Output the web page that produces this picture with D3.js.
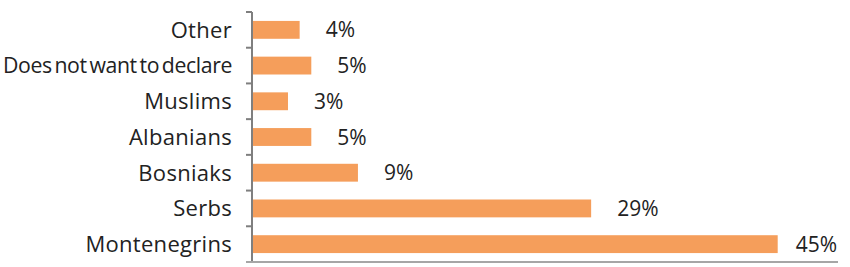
<!DOCTYPE html>
<html><head><meta charset="utf-8">
<script src="https://cdn.jsdelivr.net/npm/d3@7"></script>
<style>body{margin:0;background:#fff;}svg{display:block;}</style>
</head><body>
<svg id="chart" width="850" height="267"></svg>
<script>
const categories = ["Other","Does not want to declare","Muslims","Albanians","Bosniaks","Serbs","Montenegrins"];
const values = [4,5,3,5,9,29,45];
const valueLabels = ["4%","5%","3%","5%","9%","29%","45%"];

(function(){
const svg = d3.select("#chart");
const left = 252, right = 835, y0 = 12, y1 = 262, axisEnd = 838;
const x = d3.scaleLinear().domain([0,50]).range([left, right]);
const y = d3.scaleBand().domain(categories).range([y0, y1]).paddingInner(0.5).paddingOuter(0.25);

const font = "'Open Sans', sans-serif";
const textColor = "#222222";
const axisColor = "#7f7f7f";

svg.selectAll("rect.bar").data(categories).join("rect")
  .attr("class","bar")
  .attr("x", x(0) + 1)
  .attr("y", d => y(d))
  .attr("width", (d,i) => x(values[i]) - x(0))
  .attr("height", y.bandwidth())
  .attr("fill", "#F59E5B");

const boundaries = d3.range(categories.length + 1).map(i => y0 + i * (y1 - y0) / categories.length);
svg.append("line").attr("x1", left).attr("x2", left).attr("y1", y0).attr("y2", y1)
  .attr("stroke", axisColor).attr("stroke-width", 2);
svg.selectAll("line.tick").data(boundaries).join("line")
  .attr("class","tick")
  .attr("x1", left - 6).attr("x2", left).attr("y1", d => d).attr("y2", d => d)
  .attr("stroke", axisColor).attr("stroke-width", 2);
svg.append("line").attr("x1", left - 6).attr("x2", axisEnd).attr("y1", y1).attr("y2", y1)
  .attr("stroke", "#a6a6a6").attr("stroke-width", 2);

const labelRight = left - 20, labelMaxW = labelRight - 3;
svg.selectAll("text.cat").data(categories).join("text")
  .attr("class","cat")
  .attr("x", labelRight)
  .attr("y", d => y(d) + y.bandwidth()/2)
  .attr("dy", "0.36em")
  .attr("text-anchor", "end")
  .attr("font-family", font)
  .attr("font-size", 22)
  .attr("letter-spacing", 0.3)
  .attr("fill", textColor)
  .text(d => d)
  .each(function(){
    const t = d3.select(this);
    if (this.getComputedTextLength() > labelMaxW) {
      t.attr("letter-spacing", -0.4).attr("word-spacing", -2.5);
      if (this.getComputedTextLength() > labelMaxW) {
        t.attr("textLength", labelMaxW).attr("lengthAdjust", "spacingAndGlyphs");
      }
    }
  });

svg.selectAll("text.val").data(categories).join("text")
  .attr("class","val")
  .attr("y", d => y(d) + y.bandwidth()/2)
  .attr("dy", "0.36em")
  .attr("font-family", font)
  .attr("font-size", 21)
  .attr("fill", textColor)
  .text((d,i) => valueLabels[i])
  .each(function(d,i){
    const w = this.getComputedTextLength();
    let xs = x(values[i]) + 27;
    if (xs + w > axisEnd - 1) xs = axisEnd - 1 - w;
    d3.select(this).attr("x", xs);
  });
})();
</script>
</body></html>
